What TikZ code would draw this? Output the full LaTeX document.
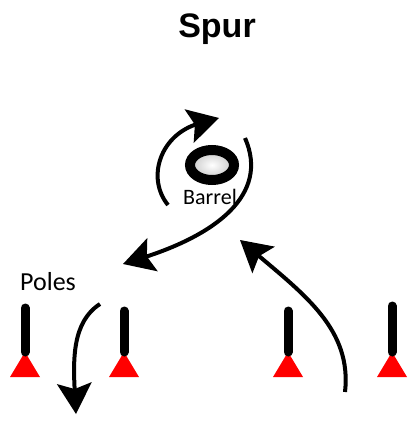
\documentclass[tikz,border=0pt]{standalone}
\usepackage{fontspec}
\setmainfont{Carlito}
\newfontfamily\titlefont{Liberation Sans}
\usetikzlibrary{calc,shapes.geometric}
\tikzset{
  curvearrow/.style={line width=4pt, shorten >=20pt},
  headpic/.pic={\fill (0,0) -- (-31,-17.5) -- (-25,0) -- (-31,17.5) -- cycle;},
  polebar/.style={line width=9pt, line cap=round},
  polebase/.style={fill=red, draw=none},
  lbl/.style={inner sep=0pt, font=\fontsize{26}{30}\selectfont},
}
\newcommand\headat[2]{%
  \path let \p1=($(#2)-(#1)$), \n1={atan2(\y1,\x1)} in (#2) pic[rotate=\n1] {headpic};}
\begin{document}
\begin{tikzpicture}[x=1pt,y=-1pt]
\useasboundingbox[fill=white] (0,0) rectangle (409,442);
% title
\node[inner sep=0pt, font=\titlefont\bfseries\fontsize{34}{40}\selectfont] (title) at (217,29) {Spur};
% barrel
\node[ellipse, draw=black, line width=10pt, inner color=white, outer color=gray!45,
      minimum width=44pt, minimum height=30pt, inner sep=0pt] (barrel) at (212,165) {};
\node[inner sep=0pt, font=\fontsize{22}{26}\selectfont] (barrellbl) at (210,197) {Barrel};
\node[lbl, anchor=west] (poles) at (20,282) {Poles};
% poles
\foreach \n/\x/\t in {p1/25/308, p2/124/311, p3/288/311, p4/392/306}{
  \fill[polebase] (\x-15,377) -- (\x+15,377) -- (\x,352) -- cycle;
  \coordinate (\n top) at (\x,\t);
  \coordinate (\n bot) at (\x,352);
  \draw[polebar] (\n top) -- (\n bot);
}
% arrows
\coordinate (a1s) at (168,205);
\coordinate (a1c) at (160,134);
\coordinate (a1e) at (219,118);
\draw[curvearrow] (a1s) .. controls (146,178) and (a1c) .. (a1e);
\headat{a1c}{a1e}
\coordinate (a2s) at (245,138);
\coordinate (a2c) at (215,235);
\coordinate (a2e) at (123,264);
\draw[curvearrow] (a2s) .. controls (270,195) and (a2c) .. (a2e);
\headat{a2c}{a2e}
\coordinate (a3s) at (345,392);
\coordinate (a3c) at (305,295);
\coordinate (a3e) at (240,240);
\draw[curvearrow] (a3s) .. controls (352,330) and (a3c) .. (a3e);
\headat{a3c}{a3e}
\coordinate (a4s) at (100,304);
\coordinate (a4c) at (73,360);
\coordinate (a4e) at (76,414);
\draw[curvearrow] (a4s) .. controls (72,322) and (a4c) .. (a4e);
\headat{a4c}{a4e}
\end{tikzpicture}
\end{document}
